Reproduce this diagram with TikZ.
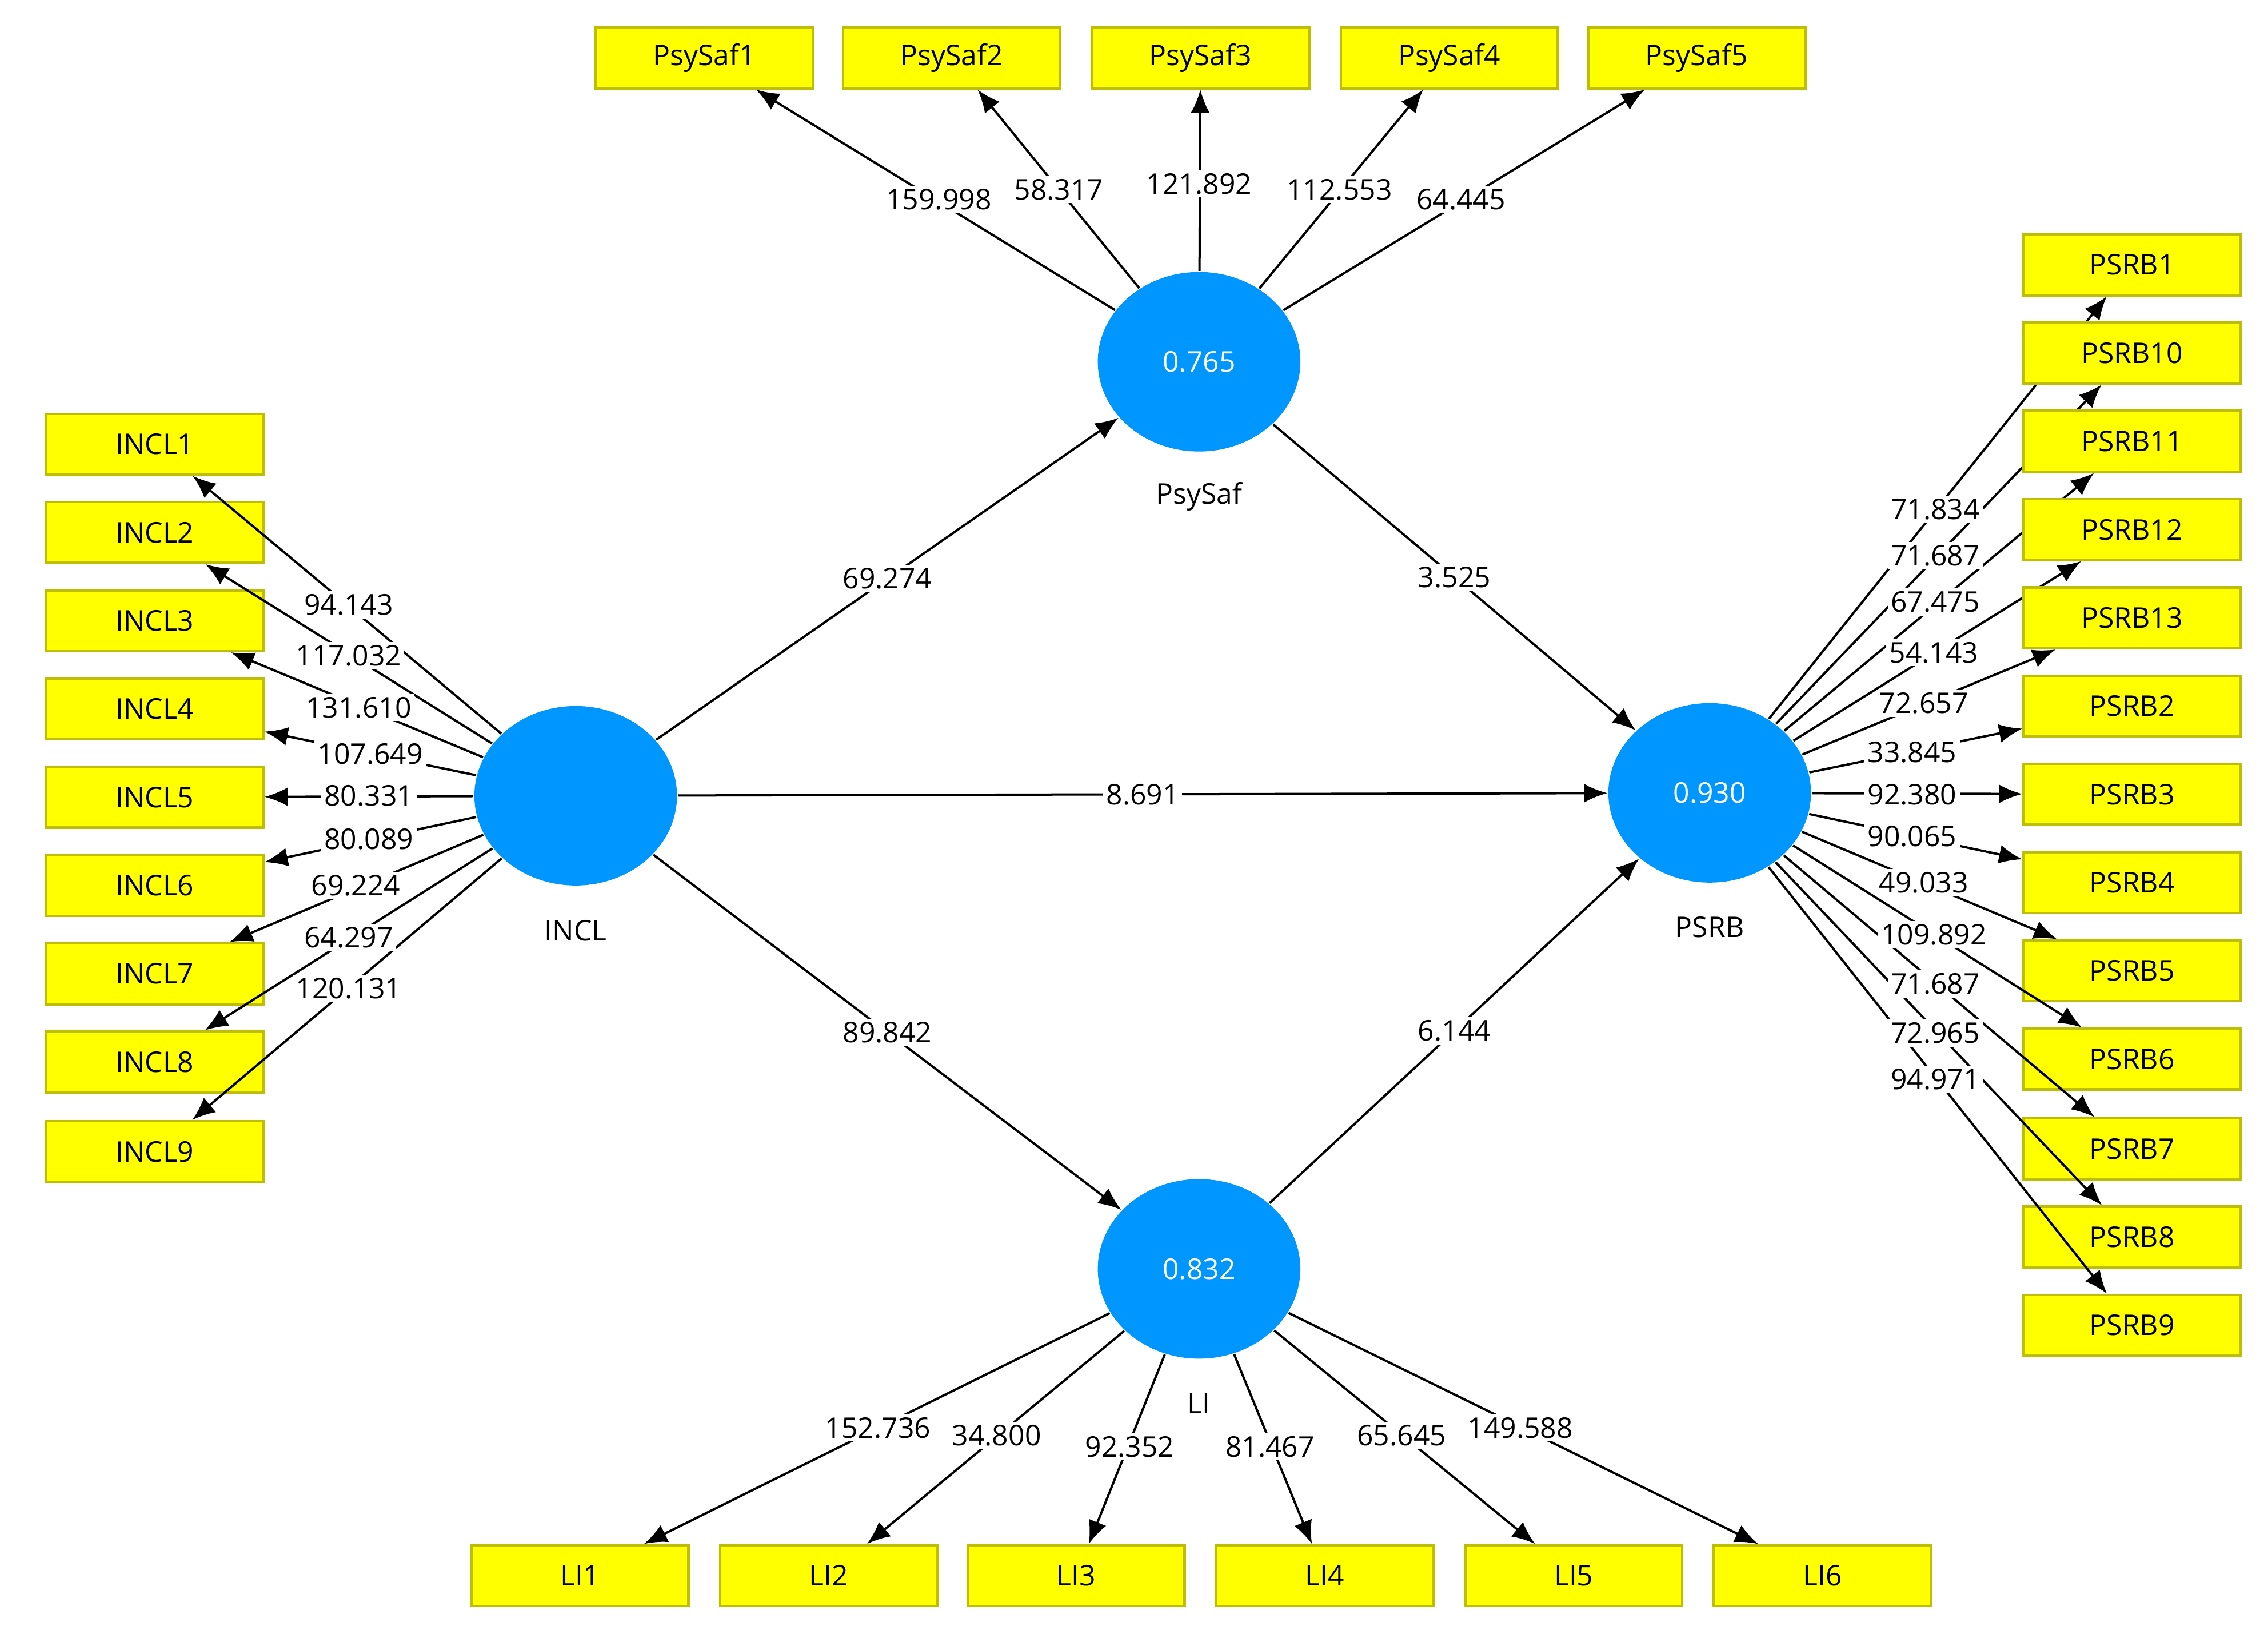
\documentclass[tikz,border=0pt]{standalone}
\usepackage{fontspec}
\setmainfont{Open Sans}
\usetikzlibrary{shapes.geometric,arrows.meta}
\definecolor{cb}{RGB}{0,150,255}
\definecolor{yb}{RGB}{255,255,0}
\definecolor{ybd}{RGB}{190,190,0}
\begin{document}
\begin{tikzpicture}[x=0.01cm,y=-0.01cm,
 lv/.style={ellipse,fill=cb,minimum width=1.4cm,minimum height=1.24cm,inner sep=0pt,text=white,font=\fontsize{5.6}{6}\selectfont},
 mv/.style={rectangle,fill=yb,draw=ybd,line width=0.5pt,minimum width=1.5cm,minimum height=0.42cm,inner sep=0pt,font=\fontsize{5.6}{6}\selectfont},
 lab/.style={font=\fontsize{5.6}{6}\selectfont,inner sep=0pt},
 val/.style={fill=white,inner sep=0.6pt,font=\fontsize{5.6}{6}\selectfont},
 ar/.style={line width=0.45pt,-{Latex[length=1.6mm,width=1.3mm]}}]
\useasboundingbox[fill=white] (0,0) rectangle (1568,1132);
\node[lv] (PS) at (829,250) {0.765};
\node[lv] (IN) at (398,550) {};
\node[lv] (PB) at (1182,548) {0.930};
\node[lv] (LI) at (829,877) {0.832};
\node[lab] at (829,343) {PsySaf};
\node[lab] at (398,643) {INCL};
\node[lab] at (1182,641) {PSRB};
\node[lab] at (829,970) {LI};
% PsySaf indicators
\foreach \i/\x/\v/\lx/\ly in {1/487/159.998/649/138, 2/658/58.317/732/131, 3/830/121.892/829/127, 4/1002/112.553/926/131, 5/1173/64.445/1010/138}{
 \node[mv] (P\i) at (\x,40) {PsySaf\i};
 \draw[ar] (PS) -- (P\i);
 \node[val] at (\lx,\ly) {\v};
}
% INCL indicators
\foreach \i/\y/\v/\lx/\ly in {1/307/94.143/241/418, 2/368/117.032/241/453, 3/429/131.610/248/489, 4/490/107.649/256/521, 5/551/80.331/255/550, 6/612/80.089/255/580, 7/673/69.224/246/612, 8/734/64.297/241/648, 9/796/120.131/241/683}{
 \node[mv] (I\i) at (107,\y) {INCL\i};
}
\foreach \i/\y/\v/\lx/\ly in {1/307/94.143/241/418, 2/368/117.032/241/453, 3/429/131.610/248/489, 4/490/107.649/256/521, 5/551/80.331/255/550, 6/612/80.089/255/580, 7/673/69.224/246/612, 8/734/64.297/241/648, 9/796/120.131/241/683}{
 \draw[ar] (IN) -- (I\i);
}
\foreach \i/\y/\v/\lx/\ly in {1/307/94.143/241/418, 2/368/117.032/241/453, 3/429/131.610/248/489, 4/490/107.649/256/521, 5/551/80.331/255/550, 6/612/80.089/255/580, 7/673/69.224/246/612, 8/734/64.297/241/648, 9/796/120.131/241/683}{
 \node[val] at (\lx,\ly) {\v};
}
% PSRB indicators
\foreach \n/\t/\y in {a/1/183, b/10/244, c/11/305, d/12/366, e/13/427, f/2/488, g/3/549, h/4/610, i/5/671, j/6/732, k/7/794, l/8/855, m/9/916}{
 \node[mv] (R\n) at (1474,\y) {PSRB\t};
 \draw[ar] (PB) -- (R\n);
}
\foreach \v/\ly in {71.834/352, 71.687/384, 67.475/416, 54.143/451, 72.657/486, 33.845/520, 92.380/549, 90.065/578, 49.033/610, 109.892/646, 71.687/680, 72.965/714, 94.971/746}{
 \pgfmathsetmacro\lx{1338-abs(\ly-549)<100 ? 1322 : 1338}
}
\foreach \v/\lx/\ly in {71.834/1338/352, 71.687/1338/384, 67.475/1338/416, 54.143/1337/451, 72.657/1330/486, 33.845/1322/520, 92.380/1322/549, 90.065/1322/578, 49.033/1330/610, 109.892/1337/646, 71.687/1338/680, 72.965/1338/714, 94.971/1338/746}{
 \node[val] at (\lx,\ly) {\v};
}
% LI indicators
\foreach \i/\x/\v/\lx/\ly in {1/401/152.736/607/987, 2/573/34.800/689/992, 3/744/92.352/781/1000, 4/916/81.467/878/1000, 5/1088/65.645/969/992, 6/1260/149.588/1051/987}{
 \node[mv] (L\i) at (\x,1089) {LI\i};
 \draw[ar] (LI) -- (L\i);
 \node[val] at (\lx,\ly) {\v};
}
% structural paths
\draw[ar] (IN) -- (PS) node[val,pos=0.5] {69.274};
\draw[ar] (PS) -- (PB) node[val,pos=0.5] {3.525};
\draw[ar] (IN) -- (PB) node[val,pos=0.5] {8.691};
\draw[ar] (IN) -- (LI) node[val,pos=0.5] {89.842};
\draw[ar] (LI) -- (PB) node[val,pos=0.5] {6.144};
\end{tikzpicture}
\end{document}
